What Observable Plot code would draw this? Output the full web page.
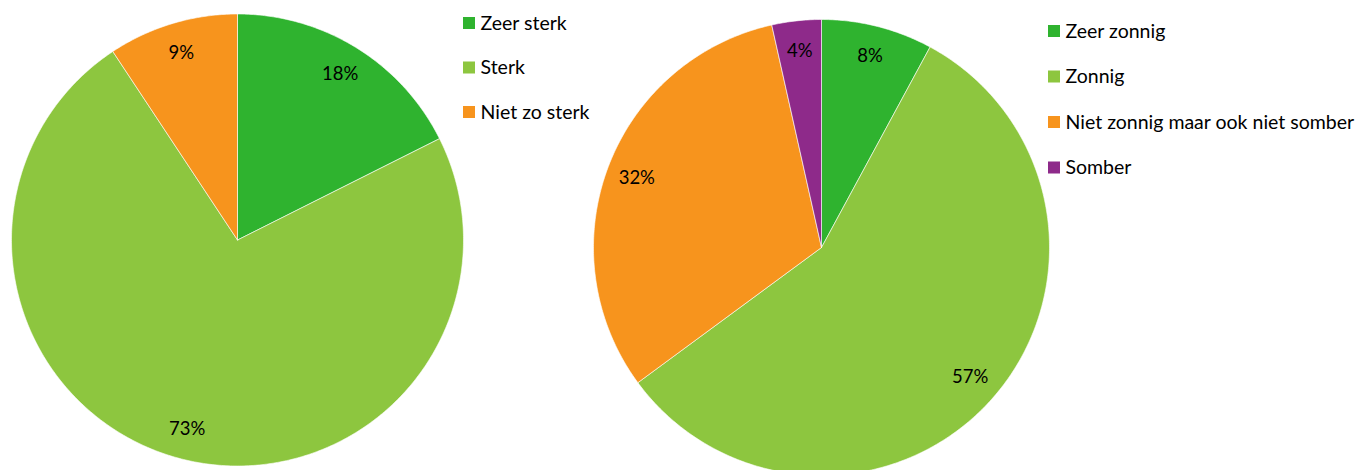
<!DOCTYPE html>
<html>
<head>
<meta charset="utf-8">
<script src="https://cdn.jsdelivr.net/npm/d3@7"></script>
<script src="https://cdn.jsdelivr.net/npm/@observablehq/plot@0.6"></script>
<style>
  html, body { margin: 0; padding: 0; background: #fff; }
  #chart svg { display: block; }
</style>
</head>
<body>
<div id="chart"></div>
<script>
// ---- Data ----
const leftCategories = ["Zeer sterk", "Sterk", "Niet zo sterk"];
const leftValues = [17.6, 73.1, 9.3];
const leftColors = ["#2fb32f", "#8dc63f", "#f7941d"];

const rightCategories = ["Zeer zonnig", "Zonnig", "Niet zonnig maar ook niet somber", "Somber"];
const rightValues = [7.9, 57.0, 31.6, 3.5];
const rightColors = ["#2fb32f", "#8dc63f", "#f7941d", "#8e2a8a"];

// ---- Layout ----
const W = 1362, H = 470;
const pies = [
  {id: "L", cats: leftCategories, values: leftValues, colors: leftColors,
   cx: 237, cy: 239.5, r: 226, lx: 463, ly: 23, step: 44.5},
  {id: "R", cats: rightCategories, values: rightValues, colors: rightColors,
   cx: 821, cy: 247, r: 228, lx: 1048, ly: 31, step: 45.5}
];

const slicePts = [], labels = [], legendRects = [], legendTexts = [];
const colorDomain = [], colorRange = [];
for (const p of pies) {
  const total = d3.sum(p.values);
  const arcs = d3.pie().sort(null).value(d => d)(p.values);
  arcs.forEach((a, i) => {
    const key = p.id + i;
    colorDomain.push(key); colorRange.push(p.colors[i]);
    slicePts.push({key, x: p.cx, y: p.cy});
    const n = Math.max(4, Math.ceil((a.endAngle - a.startAngle) / 0.01));
    for (let k = 0; k <= n; k++) {
      const t = a.startAngle + (a.endAngle - a.startAngle) * k / n;
      slicePts.push({key, x: p.cx + p.r * Math.sin(t), y: p.cy - p.r * Math.cos(t)});
    }
    slicePts.push({key, x: p.cx, y: p.cy});
    const m = (a.startAngle + a.endAngle) / 2;
    const lr = p.r * 0.865;
    labels.push({x: p.cx + lr * Math.sin(m), y: p.cy - lr * Math.cos(m),
                 text: Math.round(p.values[i] / total * 100) + "%"});
    const yy = p.ly + i * p.step;
    legendRects.push({key, x1: p.lx, x2: p.lx + 12, y1: yy - 6, y2: yy + 6});
    legendTexts.push({x: p.lx + 17, y: yy, text: p.cats[i]});
  });
}

const chart = Plot.plot({
  width: W, height: H,
  margin: 0,
  x: {type: "identity", axis: null},
  y: {type: "identity", axis: null},
  color: {domain: colorDomain, range: colorRange},
  style: {fontFamily: "Lato, 'Open Sans', sans-serif", background: "#fff"},
  marks: [
    Plot.line(slicePts, {x: "x", y: "y", z: "key", fill: "key", stroke: "white", strokeWidth: 0.6, curve: "linear"}),
    Plot.text(labels, {x: "x", y: "y", text: "text", fontSize: 18.5, fill: "#000"}),
    Plot.rect(legendRects, {x1: "x1", x2: "x2", y1: "y1", y2: "y2", fill: "key"}),
    Plot.text(legendTexts, {x: "x", y: "y", text: "text", textAnchor: "start", fontSize: 19.5, fill: "#000"})
  ]
});
document.getElementById("chart").appendChild(chart);
</script>
</body>
</html>
